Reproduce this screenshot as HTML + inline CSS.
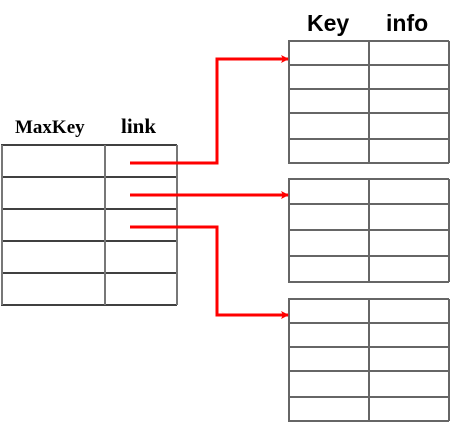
<!DOCTYPE html>
<html><head><style>body{margin:0;background:#fff}</style></head><body>
<svg width="451" height="423" xmlns="http://www.w3.org/2000/svg">
<defs><marker id="a" markerWidth="8" markerHeight="8" refX="7" refY="4" orient="auto" markerUnits="userSpaceOnUse"><path d="M0,0 L8,4 L0,8 L2,4 z" fill="#f00"/></marker></defs>
<g stroke="#000" stroke-width="1.5">
<line x1="1" y1="145" x2="177" y2="145"/><line x1="1" y1="177" x2="177" y2="177"/><line x1="1" y1="209" x2="177" y2="209"/><line x1="1" y1="241" x2="177" y2="241"/><line x1="1" y1="273" x2="177" y2="273"/><line x1="1" y1="305" x2="177" y2="305"/>
</g>
<g stroke="#777" stroke-width="2">
<line x1="2" y1="145" x2="2" y2="305"/><line x1="105" y1="145" x2="105" y2="305"/><line x1="177" y1="145" x2="177" y2="305"/>
</g>
<g stroke="#333" stroke-width="1.5">
<line x1="288" y1="41" x2="449" y2="41"/><line x1="288" y1="65" x2="449" y2="65"/><line x1="288" y1="89" x2="449" y2="89"/><line x1="288" y1="113" x2="449" y2="113"/><line x1="288" y1="139" x2="449" y2="139"/><line x1="288" y1="163" x2="449" y2="163"/>
<line x1="288" y1="179" x2="449" y2="179"/><line x1="288" y1="204" x2="449" y2="204"/><line x1="288" y1="230" x2="449" y2="230"/><line x1="288" y1="256" x2="449" y2="256"/><line x1="288" y1="282" x2="449" y2="282"/>
<line x1="288" y1="299" x2="449" y2="299"/><line x1="288" y1="323" x2="449" y2="323"/><line x1="288" y1="347" x2="449" y2="347"/><line x1="288" y1="371" x2="449" y2="371"/><line x1="288" y1="397" x2="449" y2="397"/><line x1="288" y1="421" x2="449" y2="421"/>
</g>
<g stroke="#666" stroke-width="2">
<line x1="289" y1="41" x2="289" y2="163"/><line x1="369" y1="41" x2="369" y2="163"/><line x1="449" y1="41" x2="449" y2="163"/>
<line x1="289" y1="179" x2="289" y2="282"/><line x1="369" y1="179" x2="369" y2="282"/><line x1="449" y1="179" x2="449" y2="282"/>
<line x1="289" y1="299" x2="289" y2="421"/><line x1="369" y1="299" x2="369" y2="421"/><line x1="449" y1="299" x2="449" y2="421"/>
</g>
<g stroke="#f00" stroke-width="3" fill="none">
<polyline points="130,163 217,163 217,59 288,59" marker-end="url(#a)"/>
<polyline points="130,195 288,195" marker-end="url(#a)"/>
<polyline points="130,227 217,227 217,315 288,315" marker-end="url(#a)"/>
</g>
<g font-weight="bold" fill="#000">
<text x="15" y="133" font-family="Liberation Serif, serif" font-size="19">MaxKey</text>
<text x="121" y="133" font-family="Liberation Serif, serif" font-size="21">link</text>
<text x="307" y="31" font-family="Liberation Sans, sans-serif" font-size="23">Key</text>
<text x="386" y="31" font-family="Liberation Sans, sans-serif" font-size="23">info</text>
</g>
</svg>
</body></html>
